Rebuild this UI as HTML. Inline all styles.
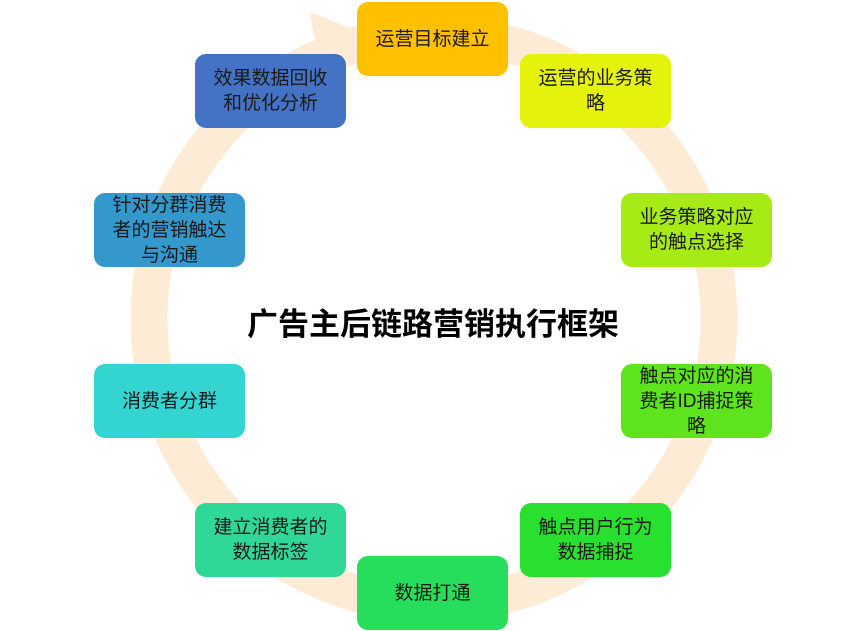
<!DOCTYPE html>
<html><head><meta charset="utf-8"><style>
html,body{margin:0;padding:0;background:#fff;}
#c{position:relative;width:866px;height:631px;overflow:hidden;font-family:"Liberation Sans","Noto Sans CJK SC",sans-serif;}
.b{position:absolute;width:151px;height:74px;border-radius:11px;display:flex;align-items:center;justify-content:center;text-align:center;font-size:19px;line-height:25px;color:#1a1a1a;box-sizing:border-box;padding:0 3px;}
.t{position:absolute;left:0;width:866px;top:299px;text-align:center;font-size:31px;font-weight:bold;color:#000;}
</style></head><body><div id="c">
<svg width="866" height="631" style="position:absolute;left:0;top:0">
<circle cx="434" cy="319" r="285" fill="none" stroke="#fdebd6" stroke-width="37"/>
<polygon points="310,12 365,34 318,60" fill="#fdebd6"/>
</svg>
<div class="b" style="left:357px;top:2px;background:#ffc000">运营目标建立</div>
<div class="b" style="left:520px;top:54px;background:#e4f20c">运营的业务策<br>略</div>
<div class="b" style="left:621px;top:193px;background:#a6ea16">业务策略对应<br>的触点选择</div>
<div class="b" style="left:621px;top:364px;background:#5ee41c">触点对应的消<br>费者ID捕捉策<br>略</div>
<div class="b" style="left:520px;top:503px;background:#2ae02e">触点用户行为<br>数据捕捉</div>
<div class="b" style="left:357px;top:556px;background:#26de5c">数据打通</div>
<div class="b" style="left:195px;top:503px;background:#30d898">建立消费者的<br>数据标签</div>
<div class="b" style="left:94px;top:364px;background:#34d4d0">消费者分群</div>
<div class="b" style="left:94px;top:193px;background:#3598cc">针对分群消费<br>者的营销触达<br>与沟通</div>
<div class="b" style="left:195px;top:54px;background:#4472c4">效果数据回收<br>和优化分析</div>
<div class="t">广告主后链路营销执行框架</div>
</div></body></html>
